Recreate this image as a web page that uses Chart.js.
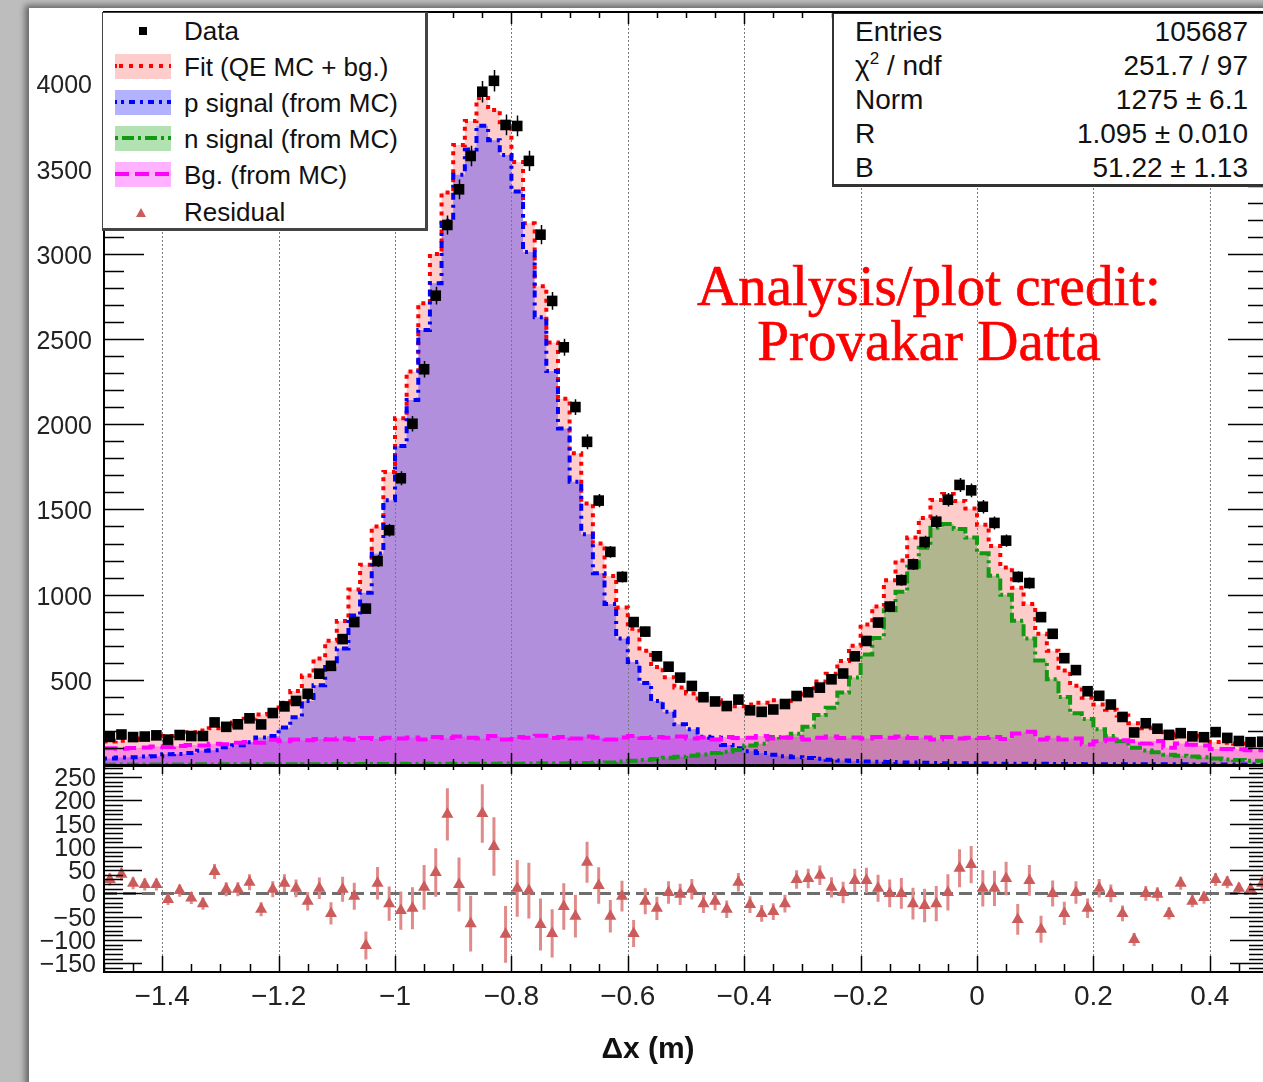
<!DOCTYPE html>
<html>
<head>
<meta charset="utf-8">
<script src="https://cdn.jsdelivr.net/npm/chart.js@4.4.0/dist/chart.umd.min.js"></script>
<style>
  html, body { margin: 0; padding: 0; width: 1263px; height: 1082px; overflow: hidden; background: #bdbdbd; font-family: "Liberation Sans", Arial, sans-serif; color: #111; }
  #sheet { position: absolute; left: 29px; top: 8px; width: 1300px; height: 1100px; background: #fff; box-shadow: -4px -3px 6px rgba(0,0,0,0.45); }
  canvas { position: absolute; left: 0; }
  #topCanvas { top: 0; }
  #resCanvas { top: 765px; }
  .box { position: absolute; background: #fff; z-index: 5; }
  #legend { left: 102px; top: 12px; width: 322px; height: 215px; border: 1px solid #444; border-right-width: 3px; border-bottom-width: 3px; }
  #stats { left: 832px; top: 13px; width: 480px; height: 170px; border: 1px solid #333; border-left-width: 2px; border-bottom-width: 3px; }
  .txt { position: absolute; white-space: nowrap; z-index: 6; }
  .leg { left: 184px; font-size: 26px; height: 30px; line-height: 30px; }
  .sym { position: absolute; left: 115px; width: 56px; height: 25px; z-index: 6; }
  .sym i { position: absolute; left: 0; right: 0; top: 10px; height: 4px; }
  .stl { left: 855px; font-size: 28px; height: 34px; line-height: 34px; }
  .stl sup { font-size: 17px; line-height: 0; vertical-align: 11px; }
  .stv { left: 848px; width: 400px; text-align: right; font-size: 28px; height: 34px; line-height: 34px; }
  .credit { left: 629px; width: 600px; text-align: center; font-family: "Liberation Serif", "Times New Roman", serif; font-size: 57px; line-height: 57px; color: #ff0000; -webkit-text-stroke: 0.7px #ff0000; z-index: 4; }
  #xtitle { left: 448px; width: 400px; top: 1030px; text-align: center; font-size: 30px; font-weight: bold; line-height: 36px; color: #111; }
</style>
</head>
<body>
<div id="sheet"></div>
<canvas id="topCanvas" width="1300" height="766"></canvas>
<canvas id="resCanvas" width="1300" height="317"></canvas>

<div id="legend" class="box"></div>
<div class="sym" style="top:19px;"><span style="position:absolute;left:24px;top:8px;width:8px;height:8px;background:#000;"></span></div>
<div class="txt leg" style="top:16px;">Data</div>
<div class="sym" style="top:54px;background:rgba(255,0,0,0.2);"><i style="background:repeating-linear-gradient(90deg,#f00 0 4px,transparent 4px 10px);background-position:4px 0;"></i></div>
<div class="txt leg" style="top:52px;">Fit (QE MC + bg.)</div>
<div class="sym" style="top:90px;background:rgba(0,0,255,0.3);"><i style="background:repeating-linear-gradient(90deg,#00f 0 3px,transparent 3px 8px,#00f 8px 14px,transparent 14px 19px);background-position:6px 0;"></i></div>
<div class="txt leg" style="top:88px;">p signal (from MC)</div>
<div class="sym" style="top:126px;background:rgba(0,160,0,0.3);"><i style="background:repeating-linear-gradient(90deg,#119911 0 3px,transparent 3px 7px,#119911 7px 19px,transparent 19px 23px);"></i></div>
<div class="txt leg" style="top:124px;">n signal (from MC)</div>
<div class="sym" style="top:162px;background:rgba(255,0,255,0.3);"><i style="background:repeating-linear-gradient(90deg,#f0f 0 14px,transparent 14px 20px);"></i></div>
<div class="txt leg" style="top:160px;">Bg. (from MC)</div>
<svg class="sym" style="top:200px;" width="56" height="25"><polygon points="26,8 31,17 21,17" fill="#cc5b5b"/></svg>
<div class="txt leg" style="top:197px;">Residual</div>

<div id="stats" class="box"></div>
<div class="txt stl" style="top:15px;">Entries</div><div class="txt stv" style="top:15px;">105687</div>
<div class="txt stl" style="top:49px;">χ<sup>2</sup> / ndf</div><div class="txt stv" style="top:49px;">251.7 / 97</div>
<div class="txt stl" style="top:83px;">Norm</div><div class="txt stv" style="top:83px;">1275 ± 6.1</div>
<div class="txt stl" style="top:117px;">R</div><div class="txt stv" style="top:117px;">1.095 ± 0.010</div>
<div class="txt stl" style="top:151px;">B</div><div class="txt stv" style="top:151px;">51.22 ± 1.13</div>

<div class="txt credit" style="top:257px;">Analysis/plot credit:</div>
<div class="txt credit" style="top:312px;">Provakar Datta</div>
<div id="xtitle" class="txt">Δx (m)</div>

<script>
// histogram binning: 100 bins of 0.02 m over [-1.5, 0.5]
const X_MIN = -1.5, X_MAX = 0.5, BIN_W = 0.02;

const xTicks = [-1.4, -1.2, -1, -0.8, -0.6, -0.4, -0.2, 0, 0.2, 0.4];
const yTicks = [500, 1000, 1500, 2000, 2500, 3000, 3500, 4000];
const resTicks = [-150, -100, -50, 0, 50, 100, 150, 200, 250];

const dataCounts = [
  165, 179, 164, 167, 174, 149, 176, 170, 170, 250,
  224, 239, 274, 238, 305, 344, 376, 418, 536, 582,
  739, 839, 918, 1197, 1378, 1683, 2003, 2323, 2755, 3170,
  3379, 3575, 3952, 4016, 3757, 3751, 3546, 3113, 2724, 2452,
  2101, 1897, 1552, 1251, 1104, 839, 783, 638, 577, 513,
  464, 398, 373, 346, 384, 321, 312, 326, 358, 405,
  427, 454, 503, 537, 638, 728, 836, 930, 1085, 1178,
  1309, 1428, 1557, 1644, 1612, 1516, 1421, 1317, 1104, 1068,
  868, 770, 627, 557, 433, 406, 355, 282, 191, 245,
  213, 177, 187, 168, 163, 193, 159, 141, 134, 137
];
const dataErr = [
  13, 13, 13, 13, 13, 12, 13, 13, 13, 16,
  15, 15, 17, 15, 17, 19, 19, 20, 23, 24,
  27, 29, 30, 35, 37, 41, 45, 48, 52, 56,
  58, 60, 63, 63, 61, 61, 60, 56, 52, 50,
  46, 44, 39, 35, 33, 29, 28, 25, 24, 23,
  22, 20, 19, 19, 20, 18, 18, 18, 19, 20,
  21, 21, 22, 23, 25, 27, 29, 30, 33, 34,
  36, 38, 39, 41, 40, 39, 38, 36, 33, 33,
  29, 28, 25, 24, 21, 20, 19, 17, 14, 16,
  15, 13, 14, 13, 13, 14, 13, 12, 12, 12
];
const fitTotal = [
  135, 138, 142, 148, 155, 162, 170, 180, 192, 203,
  215, 230, 250, 272, 296, 322, 365, 435, 525, 625,
  730, 845, 1030, 1175, 1400, 1720, 2035, 2310, 2710, 3000,
  3360, 3640, 3780, 3915, 3845, 3740, 3540, 3180, 2810, 2480,
  2150, 1830, 1535, 1300, 1110, 925, 800, 670, 575, 515,
  455, 420, 390, 380, 360, 345, 355, 365, 380, 375,
  395, 415, 490, 535, 610, 700, 825, 930, 1085, 1200,
  1335, 1450, 1555, 1590, 1550, 1505, 1410, 1285, 1160, 1040,
  945, 770, 670, 555, 465, 395, 355, 325, 290, 245,
  215, 220, 165, 185, 172, 163, 135, 130, 125, 115
];
const pSignal = [
  38, 38, 44, 46, 50, 51, 63, 65, 71, 84,
  87, 104, 116, 134, 161, 170, 220, 281, 375, 468,
  575, 684, 877, 1011, 1242, 1554, 1873, 2142, 2553, 2828,
  3195, 3464, 3613, 3752, 3667, 3581, 3367, 3011, 2628, 2312,
  1975, 1663, 1355, 1126, 945, 743, 605, 482, 375, 313,
  239, 210, 166, 160, 117, 99, 80, 70, 60, 52,
  46, 41, 36, 31, 27, 24, 21, 19, 17, 15,
  14, 13, 12, 11, 10, 10, 9, 9, 8, 8,
  7, 7, 6, 6, 6, 5, 5, 5, 5, 4,
  4, 4, 4, 4, 3, 3, 3, 3, 3, 3
];
const nSignal = [
  2, 2, 3, 2, 3, 3, 2, 3, 3, 4,
  3, 4, 4, 3, 5, 4, 5, 4, 5, 5,
  5, 6, 5, 6, 6, 6, 7, 6, 7, 7,
  7, 8, 7, 8, 8, 9, 8, 9, 10, 10,
  10, 12, 12, 14, 15, 20, 25, 30, 35, 42,
  48, 55, 62, 70, 78, 88, 115, 125, 165, 161,
  184, 224, 294, 336, 425, 514, 649, 746, 908, 1017,
  1163, 1275, 1393, 1414, 1385, 1335, 1243, 1111, 1000, 847,
  743, 613, 504, 399, 304, 270, 210, 170, 140, 101,
  85, 75, 60, 55, 50, 45, 38, 33, 30, 25
];
const bgMC = [
  95, 98, 95, 100, 102, 108, 105, 112, 118, 115,
  125, 122, 130, 135, 130, 148, 140, 150, 145, 152,
  150, 155, 148, 158, 152, 160, 155, 162, 150, 165,
  158, 168, 160, 155, 170, 150, 165, 160, 172, 158,
  165, 155, 168, 160, 150, 162, 170, 158, 165, 160,
  168, 155, 162, 150, 165, 158, 160, 170, 155, 162,
  165, 150, 160, 168, 158, 162, 155, 165, 160, 168,
  158, 162, 150, 165, 155, 160, 158, 165, 152, 185,
  195, 150, 160, 150, 155, 120, 140, 150, 145, 140,
  126, 141, 101, 126, 119, 115, 94, 94, 92, 87
];
const residual = [
  30, 41, 22, 19, 19, -13, 6, -10, -22, 47,
  9, 9, 24, -34, 9, 22, 11, -17, 11, -43,
  9, -6, -112, 22, -22, -37, -32, 13, 45, 170,
  19, -65, 172, 101, -88, 11, 6, -67, -86, -28,
  -49, 67, 17, -49, -6, -86, -17, -32, 2, -2,
  9, -22, -17, -34, 24, -24, -43, -39, -22, 30,
  32, 39, 13, 2, 28, 28, 11, 0, 0, -22,
  -26, -22, 2, 54, 62, 11, 11, 32, -56, 28,
  -77, 0, -43, 2, -32, 11, 0, -43, -99, 0,
  -2, -43, 22, -17, -9, 30, 24, 11, 9, 22
];

Chart.defaults.font.family = '"Liberation Sans", Arial, sans-serif';

const binCenter = i => X_MIN + BIN_W * (i + 0.5);
const asPoints = vals => vals.map((v, i) => ({ x: binCenter(i), y: v }));
// step outline: one point per low edge, plus the closing edge
const asSteps = vals => vals.map((v, i) => ({ x: X_MIN + BIN_W * i, y: v }))
  .concat([{ x: X_MAX, y: vals[vals.length - 1] }]);

function hist(label, vals, line, fill, dash, order) {
  return {
    label, data: asSteps(vals), stepped: 'after', order,
    borderColor: line, backgroundColor: fill, borderWidth: 4, borderDash: dash,
    borderCapStyle: 'butt', fill: 'origin', pointRadius: 0
  };
}

const fmtTick = v => (v < 0 ? '\u2212' : '') + Math.abs(v);

// fixed-size axis boxes, no extra room for the end labels
function pinY(s) {
  s.width = 104;
  s.paddingTop = 0;
  s.paddingBottom = 0;
}

function drawGrid(chart) {
  const { ctx, chartArea: a, scales: { x } } = chart;
  ctx.save();
  ctx.strokeStyle = '#7a7a7a';
  ctx.lineWidth = 1;
  ctx.setLineDash([2, 2]);
  xTicks.forEach(v => {
    const px = Math.round(x.getPixelForValue(v)) + 0.5;
    ctx.beginPath();
    ctx.moveTo(px, a.top);
    ctx.lineTo(px, a.bottom);
    ctx.stroke();
  });
  ctx.restore();
}

function drawFrame(chart, o) {
  const { ctx, chartArea: a, scales: { x, y } } = chart;
  ctx.save();
  ctx.strokeStyle = '#000';
  ctx.lineWidth = 1.5;
  ctx.beginPath();
  for (let k = 0; k <= 40; k++) {
    const v = X_MIN + 0.05 * k;
    const major = xTicks.some(t => Math.abs(t - v) < 1e-6);
    const px = Math.round(x.getPixelForValue(v)) + 0.5;
    ctx.moveTo(px, a.bottom);
    ctx.lineTo(px, a.bottom - (major ? o.xBot[0] : o.xBot[1]));
    ctx.moveTo(px, a.top);
    ctx.lineTo(px, a.top + (major ? o.xTop[0] : o.xTop[1]));
  }
  for (let v = o.yFrom; v <= o.yTo; v += o.yMinor) {
    const len = v % o.yMajor === 0 ? o.yLen[0] : o.yLen[1];
    const py = Math.round(y.getPixelForValue(v)) + 0.5;
    if (py < a.top || py > a.bottom) continue;
    ctx.moveTo(a.left, py);
    ctx.lineTo(a.left + len, py);
    ctx.moveTo(a.right, py);
    ctx.lineTo(a.right - len, py);
  }
  ctx.stroke();
  ctx.lineWidth = 2;
  ctx.strokeRect(a.left, a.top, a.right - a.left, a.bottom - a.top);
  ctx.restore();
}

const topDecor = {
  id: 'topDecor',
  beforeDatasetsDraw: chart => drawGrid(chart),
  afterDatasetsDraw(chart) {
    const { ctx, scales: { x, y } } = chart;
    ctx.save();
    ctx.strokeStyle = '#000';
    ctx.lineWidth = 1.5;
    ctx.beginPath();
    dataCounts.forEach((v, i) => {
      const px = Math.round(x.getPixelForValue(binCenter(i))) + 0.5;
      ctx.moveTo(px, y.getPixelForValue(v - dataErr[i]));
      ctx.lineTo(px, y.getPixelForValue(v + dataErr[i]));
    });
    ctx.stroke();
    ctx.restore();
  },
  afterDraw: chart => drawFrame(chart, {
    xBot: [12, 6], xTop: [12, 6], yFrom: 0, yTo: 4400, yMinor: 100, yMajor: 500, yLen: [40, 20]
  })
};

const resDecor = {
  id: 'resDecor',
  beforeDatasetsDraw(chart) {
    drawGrid(chart);
    const { ctx, chartArea: a, scales: { x, y } } = chart;
    ctx.save();
    // zero reference
    ctx.strokeStyle = '#6e6e6e';
    ctx.lineWidth = 3;
    ctx.setLineDash([13, 6]);
    const y0 = y.getPixelForValue(0);
    ctx.beginPath();
    ctx.moveTo(a.left, y0);
    ctx.lineTo(a.right, y0);
    ctx.stroke();
    // residual uncertainties
    ctx.setLineDash([]);
    ctx.strokeStyle = '#e08a8a';
    ctx.lineWidth = 3;
    ctx.beginPath();
    residual.forEach((v, i) => {
      const px = x.getPixelForValue(binCenter(i));
      ctx.moveTo(px, y.getPixelForValue(v - dataErr[i]));
      ctx.lineTo(px, y.getPixelForValue(v + dataErr[i]));
    });
    ctx.stroke();
    ctx.restore();
  },
  afterDraw: chart => drawFrame(chart, {
    xBot: [16, 8], xTop: [8, 4], yFrom: -160, yTo: 270, yMinor: 10, yMajor: 50, yLen: [38, 19]
  })
};

const noGrid = { display: false, drawTicks: false };

new Chart(document.getElementById('topCanvas'), {
  type: 'line',
  data: {
    datasets: [
      { label: 'Data', data: asPoints(dataCounts), showLine: false, order: 0,
        pointStyle: 'rect', pointRadius: 7.5, pointBackgroundColor: '#000', pointBorderWidth: 0 },
      hist('Bg. (from MC)', bgMC, '#ff00ff', 'rgba(255,0,255,0.3)', [14, 6], 1),
      hist('n signal (from MC)', nSignal, '#119911', 'rgba(0,128,0,0.3)', [12, 4, 3, 4], 2),
      hist('p signal (from MC)', pSignal, '#0000ff', 'rgba(0,0,255,0.3)', [3, 5, 7, 5], 3),
      hist('Fit (QE MC + bg.)', fitTotal, '#ff0000', 'rgba(255,0,0,0.2)', [4, 5], 4)
    ]
  },
  options: {
    responsive: false, animation: false, events: [],
    layout: { autoPadding: false, padding: { left: 0, top: 12, right: 32, bottom: 1 } },
    plugins: { legend: { display: false }, tooltip: { enabled: false }, filler: { drawTime: 'beforeDatasetsDraw' } },
    scales: {
      x: { type: 'linear', min: X_MIN, max: X_MAX, display: false },
      y: {
        min: 0, max: 4420,
        afterFit: pinY,
        afterBuildTicks: s => { s.ticks = yTicks.map(v => ({ value: v })); },
        grid: noGrid, border: { display: false },
        ticks: { callback: fmtTick, font: { size: 25 }, color: '#222', padding: 12, labelOffset: 3 }
      }
    }
  },
  plugins: [topDecor]
});

new Chart(document.getElementById('resCanvas'), {
  type: 'line',
  data: {
    datasets: [
      { label: 'Residual', data: asPoints(residual), showLine: false,
        pointStyle: 'triangle', pointRadius: 7, pointBackgroundColor: '#cc5b5b', pointBorderWidth: 0 }
    ]
  },
  options: {
    responsive: false, animation: false, events: [],
    layout: { autoPadding: false, padding: { left: 0, top: 1, right: 32, bottom: 0 } },
    plugins: { legend: { display: false }, tooltip: { enabled: false } },
    scales: {
      x: {
        type: 'linear', min: X_MIN, max: X_MAX,
        afterFit: s => { s.height = 110; },
        afterBuildTicks: s => { s.ticks = xTicks.map(v => ({ value: v })); },
        grid: noGrid, border: { display: false },
        ticks: { callback: fmtTick, font: { size: 28 }, color: '#222', padding: 8, maxRotation: 0, autoSkip: false }
      },
      y: {
        min: -169, max: 274,
        afterFit: pinY,
        afterBuildTicks: s => { s.ticks = resTicks.map(v => ({ value: v })); },
        grid: noGrid, border: { display: false },
        ticks: { callback: fmtTick, font: { size: 25 }, color: '#222', padding: 8, autoSkip: false, labelOffset: 2 }
      }
    }
  },
  plugins: [resDecor]
});
</script>
</body>
</html>
